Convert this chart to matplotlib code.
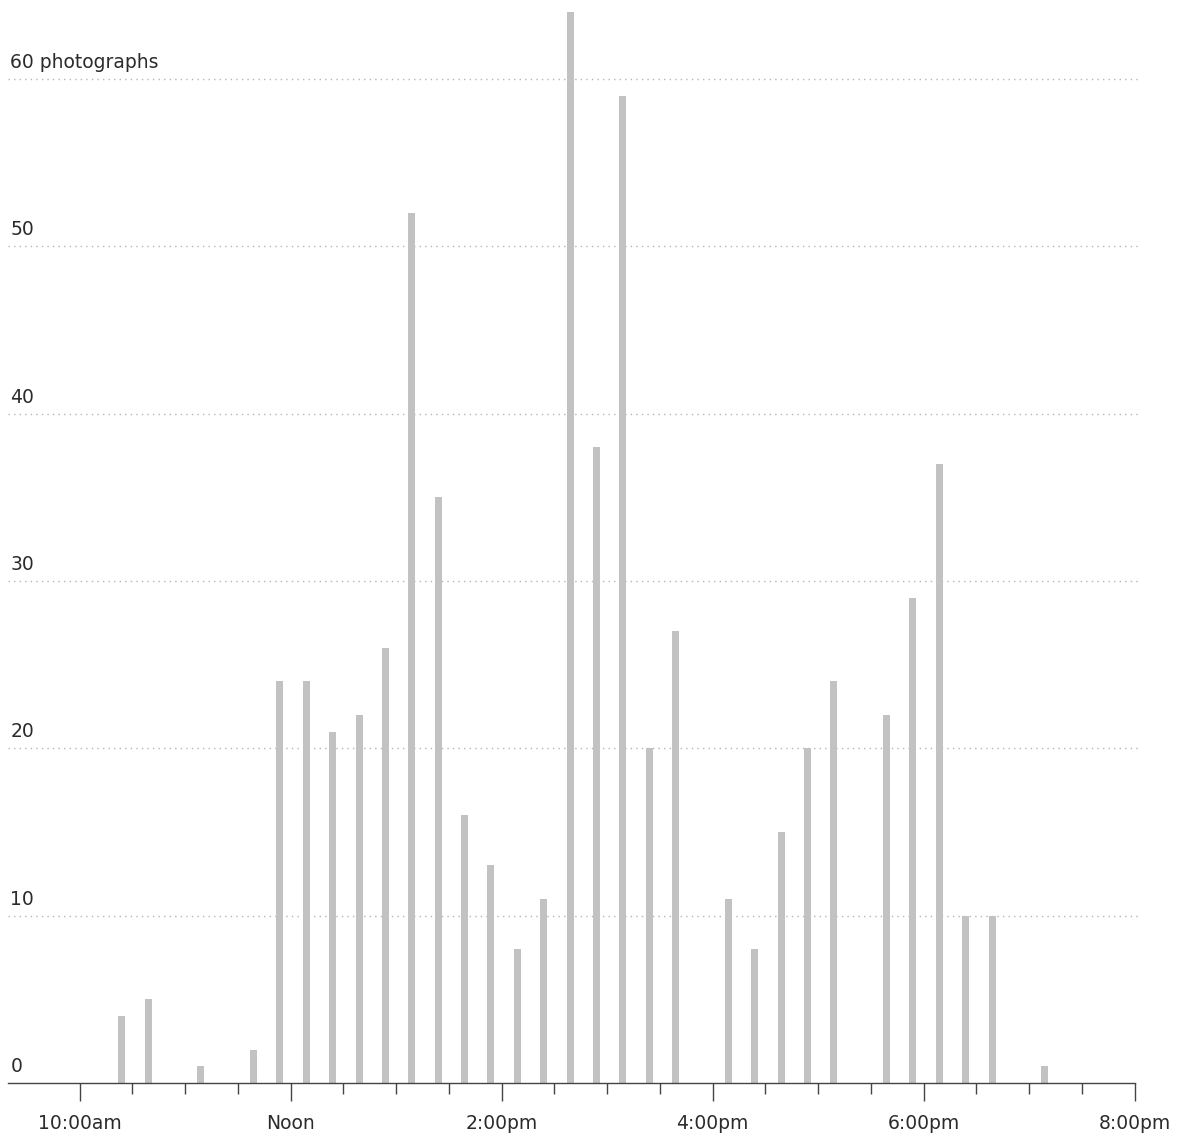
import matplotlib
matplotlib.use("Agg")
import matplotlib.pyplot as plt
from matplotlib.transforms import blended_transform_factory, offset_copy

# Data: photographs per 15-minute interval, starting about 10:16am
bin_start_minutes = 16.5  # minutes after 10:00am of first bin start
bin_width_minutes = 15
counts = [4, 5, 0, 1, 0, 2, 24, 24, 21, 22, 26, 52, 35, 16, 13, 8, 11,
          64, 38, 59, 20, 27, 0, 11, 8, 15, 20, 24, 0, 22, 29, 37, 10, 10, 0, 1]
y_ticks = [0, 10, 20, 30, 40, 50, 60]
y_labels = ["0", "10", "20", "30", "40", "50", "60 photographs"]
x_major = [0, 120, 240, 360, 480, 600]  # minutes after 10:00am
x_major_labels = ["10:00am", "Noon", "2:00pm", "4:00pm", "6:00pm", "8:00pm"]

W, H = 1185, 1134
fig = plt.figure(figsize=(W / 100, H / 100), dpi=100)
px_per_min = 105.5 / 60.0
x0_px = 79.5
left_px, right_px = 8, 1140
ax = fig.add_axes([left_px / W, (H - 1083) / H, (right_px - left_px) / W, 1083 / H])
xmin = (left_px - x0_px) / px_per_min
xmax = (right_px - x0_px) / px_per_min
ax.set_xlim(xmin, xmax)
ax.set_ylim(0, 1083 / 16.733)

centers = [bin_start_minutes + bin_width_minutes * (i + 0.5) for i in range(len(counts))]
ax.bar(centers, counts, width=4.0, color="#c2c2c2", zorder=2)

font = "DejaVu Sans"
txt_color = "#2b2b2b"
trans = blended_transform_factory(ax.transAxes, ax.transData)
for v, lab in zip(y_ticks, y_labels):
    if v > 0:
        ax.plot([0, 0.998], [v, v], transform=trans, color="#b5b5b5",
                lw=1.0, ls=(0, (1, 3)), zorder=1)
    ax.text(0.002, v, lab, transform=offset_copy(trans, fig=fig, x=0, y=7, units="dots"),
            ha="left", va="bottom", fontsize=13.5, color=txt_color, family=font)

for s in ["top", "right", "left"]:
    ax.spines[s].set_visible(False)
ax.spines["bottom"].set_color("#444444")
ax.spines["bottom"].set_linewidth(1.0)
ax.spines["bottom"].set_bounds(xmin, 600)
ax.set_yticks([])

minor = [m for m in range(0, 601, 30) if m not in x_major]
ax.set_xticks(x_major)
ax.set_xticklabels(x_major_labels, fontsize=13.5, color=txt_color, family=font)
ax.set_xticks(minor, minor=True)
ax.tick_params(axis="x", which="major", length=13, width=1, color="#444444", pad=9)
ax.tick_params(axis="x", which="minor", length=8, width=1, color="#444444")

fig.savefig("out.png", dpi=100)
